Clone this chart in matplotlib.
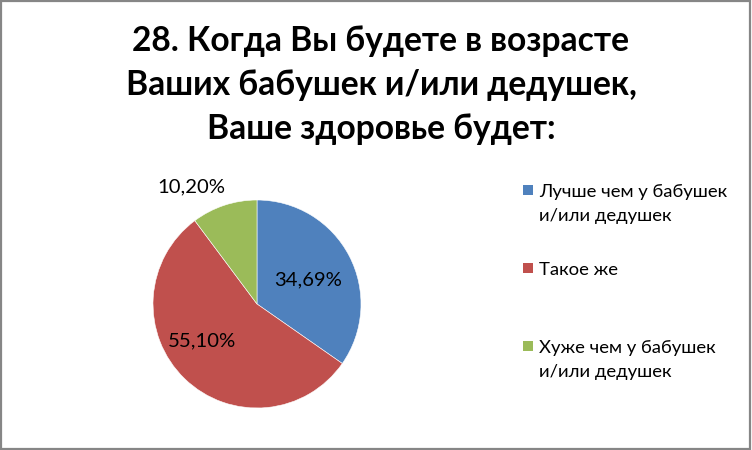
import matplotlib
matplotlib.use("Agg")
import matplotlib.pyplot as plt
from matplotlib.patches import Rectangle

categories = ["Лучше чем у бабушек\nи/или дедушек", "Такое же", "Хуже чем у бабушек\nи/или дедушек"]
values = [34.69, 55.10, 10.20]
colors = ["#4F81BD", "#C0504D", "#9BBB59"]
title_lines = ["28. Когда Вы будете в возрасте", "Ваших бабушек и/или дедушек,", "Ваше здоровье будет:"]

W, H, DPI = 752, 450, 100
plt.rcParams["font.family"] = ["Lato", "DejaVu Sans"]

fig = plt.figure(figsize=(W / DPI, H / DPI), dpi=DPI)
fig.patch.set_facecolor("white")


def fx(px):
    return px / W


def fy(py):
    return 1 - py / H


# outer frame
fig.patches.append(Rectangle((0.001, 0.002), 0.9965, 0.9955, transform=fig.transFigure,
                             fill=False, edgecolor="#868686", linewidth=1.6))

# title
for line, base in zip(title_lines, [51, 95, 139]):
    fig.text(fx(381), fy(base), line, ha="center", va="baseline",
             fontsize=24.2, fontweight="bold", color="black")

# pie
cx, cy, r = 257, 304, 104
ax = fig.add_axes([fx(cx - r), fy(cy + r), 2 * r / W, 2 * r / H])
wedges, _ = ax.pie(values, colors=colors, startangle=90, counterclock=False,
                   wedgeprops=dict(edgecolor="white", linewidth=0.4))
ax.set_xlim(-1, 1)
ax.set_ylim(-1, 1)
ax.set_aspect("equal")

# data labels
label_pos = [(0.49, 0.23), (-0.53, -0.35), (-0.63, 1.13)]
for v, pos in zip(values, label_pos):
    ax.text(pos[0], pos[1], f"{v:.2f}%".replace(".", ","), ha="center", va="center",
            fontsize=14.6, color="black", clip_on=False)

# legend
legend_rows = [190, 268, 346]
line_step = 24
for wedge, label, yc in zip(wedges, categories, legend_rows):
    fig.patches.append(Rectangle((fx(523), fy(yc + 5)), 10 / W, 10 / H, transform=fig.transFigure,
                                 facecolor=wedge.get_facecolor(), edgecolor="none"))
    for i, part in enumerate(label.split("\n")):
        fig.text(fx(539), fy(yc + 7 + i * line_step), part, ha="left", va="baseline",
                 fontsize=13.3, color="black")

fig.savefig("out.png", dpi=DPI, facecolor="white")
